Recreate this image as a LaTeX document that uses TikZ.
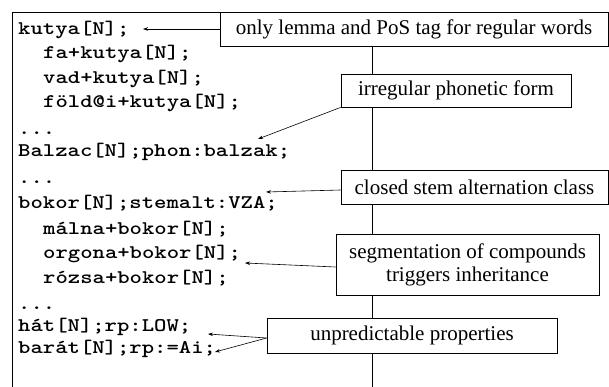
\documentclass[tikz,border=0pt]{standalone}
\usepackage{fontspec}
\setmainfont{Liberation Serif}
\newfontfamily\codefont[FakeStretch=1.22]{lmmonolt10-bold.otf}
\usetikzlibrary{arrows.meta}
\begin{document}
\begin{tikzpicture}[x=1pt,y=-1pt,
  code/.style={anchor=base west, inner sep=0pt, font=\fontsize{19.3}{24}\codefont},
  note/.style={draw, fill=white, line width=0.8pt, inner sep=0pt, font=\fontsize{21}{23}\selectfont, align=center},
  link/.style={line width=0.6pt, -{Stealth[length=5pt,width=3.5pt]}},
  frame/.style={line width=0.8pt}]
\useasboundingbox (0,0) rectangle (609,387);
% frame
\draw[frame] (12,387) -- (12,12) -- (372,12) -- (372,387);
% code lines
\node[code] (t1) at (18,34.5) {kutya[N];};
\node[code] (t2) at (43,59) {fa+kutya[N];};
\node[code] (t3) at (43,83.5) {vad+kutya[N];};
\node[code] (t4) at (43,108) {föld@i+kutya[N];};
\node[code] (t5) at (18,135) {...};
\node[code] (t6) at (18,157) {Balzac[N];phon:balzak;};
\node[code] (t7) at (18,184) {...};
\node[code] (t8) at (18,208) {bokor[N];stemalt:VZA;};
\node[code] (t9) at (43,234) {málna+bokor[N];};
\node[code] (t10) at (43,258) {orgona+bokor[N];};
\node[code] (t11) at (43,283) {rózsa+bokor[N];};
\node[code] (t12) at (18,309) {...};
\node[code] (t13) at (18,331) {hát[N];rp:LOW;};
\node[code] (t14) at (18,353) {barát[N];rp:=Ai;};
% notes
\node[note, minimum width=388pt, minimum height=34pt] (n1) at (414,29) {only lemma and PoS tag for regular words};
\node[note, minimum width=230pt, minimum height=33pt] (n2) at (456,90.5) {irregular phonetic form};
\node[note, minimum width=267pt, minimum height=34pt] (n3) at (474.5,187) {closed stem alternation class};
\node[note, minimum width=263pt, minimum height=61pt] (n4) at (467.5,264.5) {segmentation of compounds\\triggers inheritance};
\node[note, minimum width=290pt, minimum height=35pt] (n5) at (412,335.5) {unpredictable properties};
% arrow targets
\coordinate (a1) at (143,29);
\coordinate (a2) at (258,139);
\coordinate (a3) at (266,192);
\coordinate (a4) at (245,263);
\coordinate (a5) at (208,334);
\coordinate (a6) at (215,352);
\draw[link] (n1.west) -- (a1);
\draw[link] (n2.south west) -- (a2);
\draw[link] ([yshift=-3pt]n3.west) -- (a3);
\draw[link] ([yshift=-2.5pt]n4.west) -- (a4);
\draw[link] ([yshift=-2.5pt]n5.west) -- (a5);
\draw[link] ([yshift=-2.5pt]n5.west) -- (a6);
\end{tikzpicture}
\end{document}
